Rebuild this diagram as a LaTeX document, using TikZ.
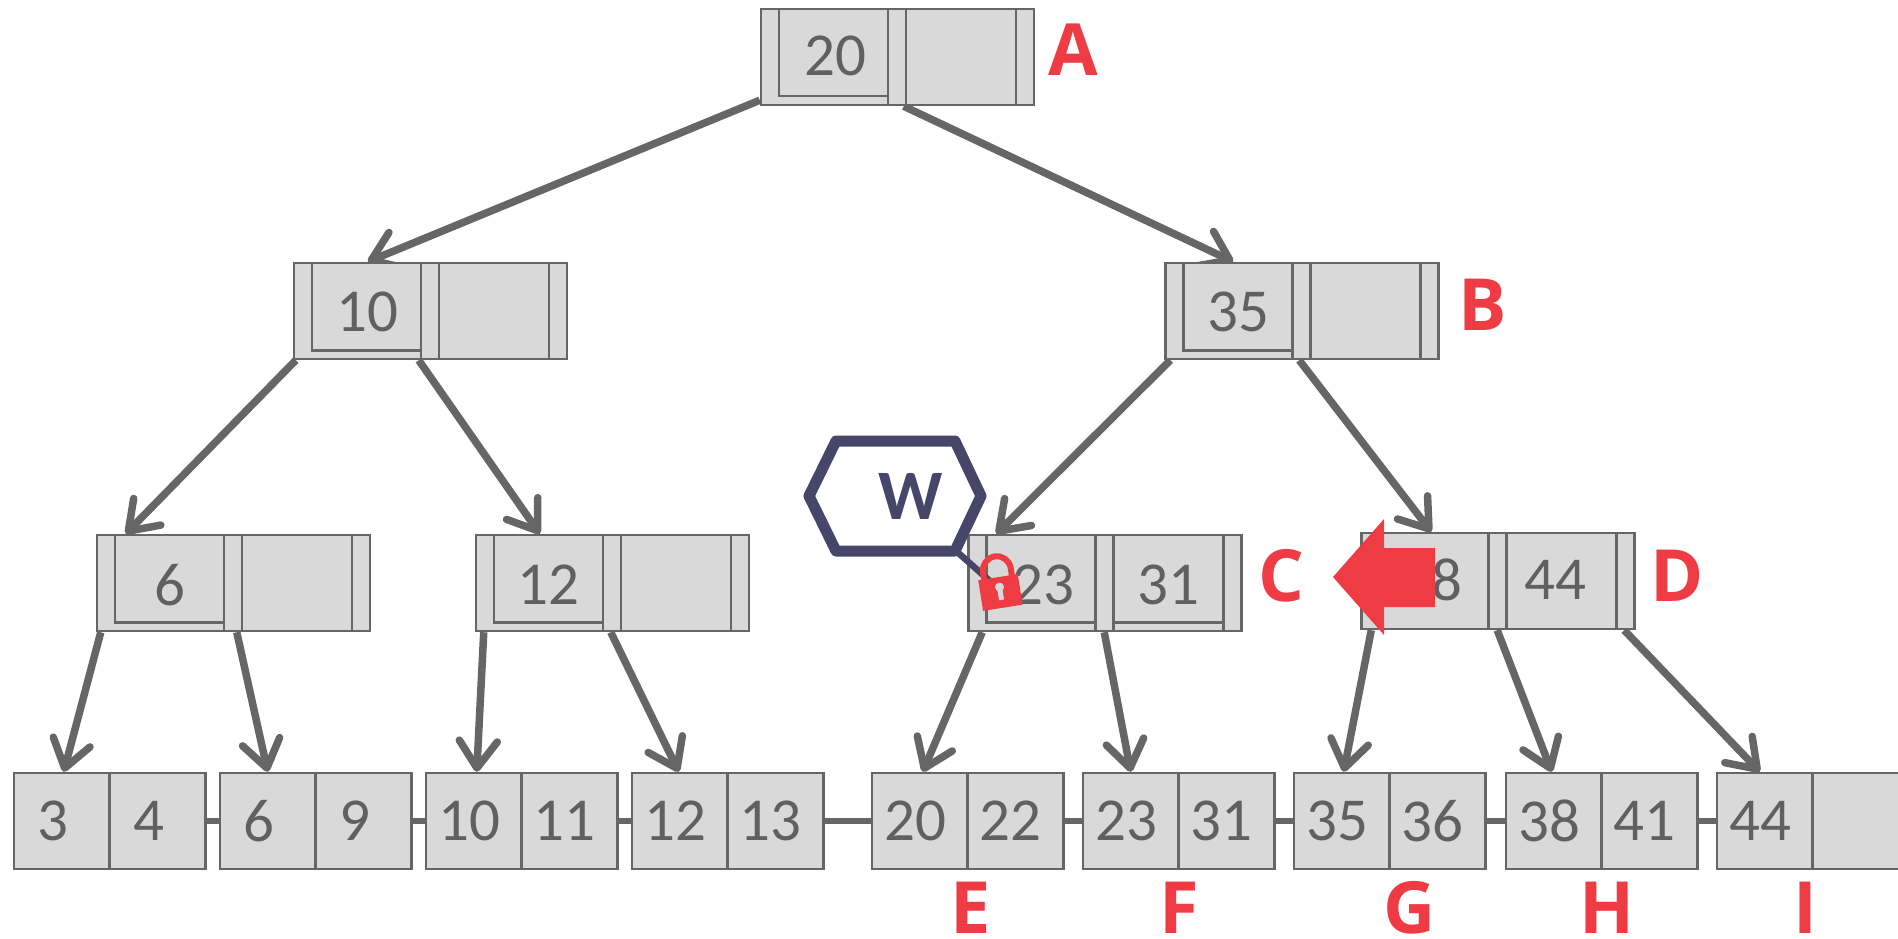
\documentclass[tikz,border=0pt]{standalone}
\usepackage{fontspec}
\setmainfont{Carlito}
\newfontfamily\labelfont{Open Sans}
\usetikzlibrary{calc,arrows.meta,backgrounds}

\definecolor{linegray}{HTML}{666666}
\definecolor{boxgray}{HTML}{D9D9D9}
\definecolor{keygray}{HTML}{606060}
\definecolor{markred}{HTML}{EF3C44}
\definecolor{latchblue}{HTML}{45466A}

\tikzset{
  divider/.style={draw=linegray,line width=2.5pt},
  keynode/.style={divider,fill=boxgray,minimum width=273pt,minimum height=96pt,inner sep=0pt,
    path picture={
      \draw[divider] ([xshift=18pt]path picture bounding box.north west) -- ([xshift=18pt,yshift=10pt]path picture bounding box.south west);
      \draw[divider] ([xshift=127pt]path picture bounding box.north west) -- ([xshift=127pt]path picture bounding box.south west);
      \draw[divider] ([xshift=145pt]path picture bounding box.north west) -- ([xshift=145pt]path picture bounding box.south west);
      \draw[divider] ([xshift=255pt]path picture bounding box.north west) -- ([xshift=255pt]path picture bounding box.south west);
    }},
  keytext/.style={text=keygray,inner sep=0pt,font=\fontsize{61}{61}\selectfont},
  leafcell/.style={divider,fill=boxgray,minimum width=96pt,minimum height=96pt,inner sep=0pt,text=keygray,
    font=\fontsize{61}{61}\selectfont,execute at begin node={\kern-10pt}},
  onedigit/.style={execute at begin node={\kern-8pt}},
  pointer/.style={draw=linegray,line width=7.5pt,-{Straight Barb[length=27pt,width=38pt,round]}},
  chain/.style={draw=linegray,line width=6pt},
  marktext/.style={text=markred,inner sep=0pt,font=\labelfont\fontsize{72}{72}\selectfont\bfseries}
}

\begin{document}
\begin{tikzpicture}[x=1pt,y=-1pt]
\useasboundingbox (0,0) rectangle (1898,939);

% the inner nodes
\node[keynode] (a) at (897.5,57) {};
\node[keynode] (b) at (1302,311) {};
\node[keynode] (left) at (430.5,311) {};
\node[keynode] (six) at (233.5,583) {};
\node[keynode] (twelve) at (612.5,583) {};
\node[keynode] (c) at (1105,583) {};
\node[keynode] (d) at (1498,581) {};

% the bars under the framed keys
\draw[divider] ([shift={(18pt,10pt)}]a.south west) -- ([shift={(127pt,10pt)}]a.south west);
\draw[divider] ([shift={(18pt,10pt)}]b.south west) -- ([shift={(127pt,10pt)}]b.south west);
\draw[divider] ([shift={(18pt,10pt)}]left.south west) -- ([shift={(127pt,10pt)}]left.south west);
\draw[divider] ([shift={(18pt,10pt)}]six.south west) -- ([shift={(127pt,10pt)}]six.south west);
\draw[divider] ([shift={(18pt,10pt)}]twelve.south west) -- ([shift={(127pt,10pt)}]twelve.south west);
\draw[divider] ([shift={(18pt,10pt)}]c.south west) -- ([shift={(127pt,10pt)}]c.south west);
\draw[divider] ([shift={(145pt,10pt)}]c.south west) -- ([shift={(255pt,10pt)}]c.south west);

% keys of the inner nodes
\node[keytext] (a key) at (835,56) {20};
\node[keytext] (b key) at (1238,312) {35};
\node[keytext] (left key) at (367,312) {10};
\node[keytext] (six key) at (170,585) {6};
\node[keytext] (twelve key) at (548,585) {12};
\node[keytext] (c key one) at (1043,585) {23};
\node[keytext] (c key two) at (1168,585) {31};
\node[keytext] (d key one) at (1431,580) {38};
\node[keytext] (d key two) at (1555,580) {44};

% the leaves
\node[leafcell,onedigit] (l1a) at (62,821) {3};
\node[leafcell,onedigit] (l1b) at (157.5,821) {4};
\node[leafcell,onedigit] (l2a) at (268,821) {6};
\node[leafcell,onedigit] (l2b) at (363.5,821) {9};
\node[leafcell] (l3a) at (474,821) {10};
\node[leafcell] (l3b) at (569.5,821) {11};
\node[leafcell] (l4a) at (680,821) {12};
\node[leafcell] (l4b) at (775.5,821) {13};
\node[leafcell] (l5a) at (920,821) {20};
\node[leafcell] (l5b) at (1015.5,821) {22};
\node[leafcell] (l6a) at (1131,821) {23};
\node[leafcell] (l6b) at (1226.5,821) {31};
\node[leafcell] (l7a) at (1342,821) {35};
\node[leafcell] (l7b) at (1437.5,821) {36};
\node[leafcell] (l8a) at (1554,821) {38};
\node[leafcell] (l8b) at (1649.5,821) {41};
\node[leafcell] (l9a) at (1765,821) {44};
\node[leafcell] (l9b) at (1860.5,821) {};

% links between the leaves
\draw[chain] (l1b.east) -- (l2a.west);
\draw[chain] (l2b.east) -- (l3a.west);
\draw[chain] (l3b.east) -- (l4a.west);
\draw[chain] (l4b.east) -- (l5a.west);
\draw[chain] (l5b.east) -- (l6a.west);
\draw[chain] (l6b.east) -- (l7a.west);
\draw[chain] (l7b.east) -- (l8a.west);
\draw[chain] (l8b.east) -- (l9a.west);

% pointers, under the boxes
\begin{scope}[on background layer]
\draw[pointer] ([yshift=6pt]a.south west) -- ([xshift=75pt]left.north west);
\draw[pointer] ([xshift=144pt]a.south west) -- ([xshift=69pt]b.north west);
\draw[pointer] ([xshift=3pt]left.south west) -- ([xshift=30pt]six.north west);
\draw[pointer] ([xshift=126pt]left.south west) -- ([xshift=65pt]twelve.north west);
\draw[pointer] ([xshift=6pt]b.south west) -- ([xshift=29pt]c.north west);
\draw[pointer] ([xshift=135pt]b.south west) -- ([xshift=71pt]d.north west);
\draw[pointer] ([xshift=5pt]six.south west) -- ([xshift=51pt]l1a.north west);
\draw[pointer] ([xshift=141pt]six.south west) -- ([xshift=49pt]l2a.north west);
\draw[pointer] ([xshift=9pt]twelve.south west) -- ([xshift=52pt]l3a.north west);
\draw[pointer] ([xshift=136pt]twelve.south west) -- ([xshift=48pt]l4a.north west);
\draw[pointer] ([xshift=15pt]c.south west) -- ([xshift=52pt]l5a.north west);
\draw[pointer] ([xshift=137pt]c.south west) -- ([xshift=49pt]l6a.north west);
\draw[pointer] ([xshift=11pt]d.south west) -- ([xshift=51pt]l7a.north west);
\draw[pointer] ([xshift=137pt]d.south west) -- ([xshift=47pt]l8a.north west);
\draw[pointer] ([xshift=264pt]d.south west) -- ([xshift=44pt]l9a.north west);
\end{scope}

% red labels
\node[marktext] (label a) at (1073,50) {A};
\node[marktext] (label b) at (1483,305) {B};
\node[marktext] (label c) at (1281,576) {C};
\node[marktext] (label d) at (1677,576) {D};
\node[marktext] (label e) at (971,908) {E};
\node[marktext] (label f) at (1179,908) {F};
\node[marktext] (label g) at (1410,908) {G};
\node[marktext] (label h) at (1607,908) {H};
\node[marktext] (label i) at (1805,908) {I};

% big arrow over the 38
\fill[markred] (1333,577) -- (1384,519) -- (1384,548) -- (1435,548) -- (1435,607) -- (1384,607) -- (1384,635) -- cycle;

% the worker and its latch
\draw[latchblue,line width=11pt,line join=round] (836,441) -- (955,441) -- (981,496) -- (955,551) -- (836,551) -- (809,496) -- cycle;
\node[inner sep=0pt,text=latchblue,font=\fontsize{71}{71}\selectfont\bfseries] (worker) at (911,496) {W};
\coordinate (lock) at (1000,590);
\draw[latchblue,line width=6.5pt] (955,550) -- (lock);

% the padlock
\begin{scope}[shift={(lock)},rotate=9]
\draw[markred,line width=6pt] (-14,-12) -- (-14,-20) arc[start angle=180,end angle=0,radius=14pt] -- (14,-12);
\fill[markred] (-20,-13) rectangle (20,18);
\fill[boxgray] (0,-3) circle[radius=4.5pt];
\fill[boxgray] (-2.5,-3) rectangle (2.5,10);
\end{scope}
\end{tikzpicture}
\end{document}
